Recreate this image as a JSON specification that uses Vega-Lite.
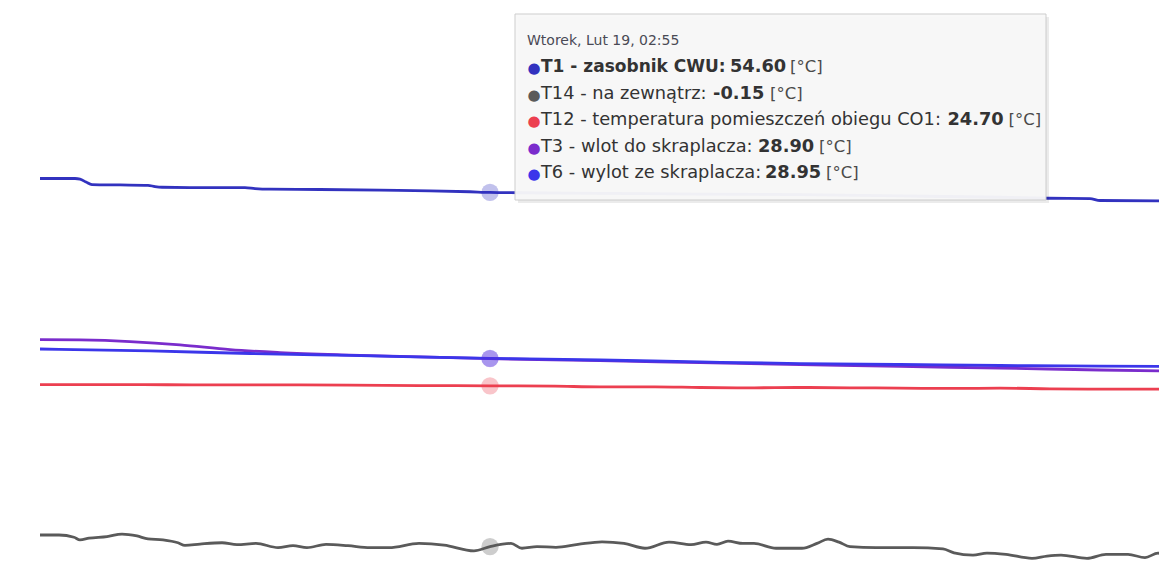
{
  "$schema": "https://vega.github.io/schema/vega-lite/v6.json",
  "width": 1159,
  "height": 581,
  "padding": 0,
  "autosize": {"type": "none"},
  "background": "#ffffff",
  "config": {"view": {"stroke": null}},
  "datasets": {
    "temps": [
      {"t": "2019-02-18T19:25", "s": "T1", "v": 56.75},
      {"t": "2019-02-18T19:45", "s": "T1", "v": 56.75},
      {"t": "2019-02-18T20:00", "s": "T1", "v": 56.75},
      {"t": "2019-02-18T20:05", "s": "T1", "v": 56.65},
      {"t": "2019-02-18T20:11", "s": "T1", "v": 56.2},
      {"t": "2019-02-18T20:17", "s": "T1", "v": 55.8},
      {"t": "2019-02-18T20:45", "s": "T1", "v": 55.75},
      {"t": "2019-02-18T21:13", "s": "T1", "v": 55.7},
      {"t": "2019-02-18T21:20", "s": "T1", "v": 55.5},
      {"t": "2019-02-18T21:27", "s": "T1", "v": 55.4},
      {"t": "2019-02-18T22:05", "s": "T1", "v": 55.35},
      {"t": "2019-02-18T22:50", "s": "T1", "v": 55.35},
      {"t": "2019-02-18T23:00", "s": "T1", "v": 55.2},
      {"t": "2019-02-18T23:15", "s": "T1", "v": 55.1},
      {"t": "2019-02-19T00:05", "s": "T1", "v": 55.05},
      {"t": "2019-02-19T01:05", "s": "T1", "v": 54.95},
      {"t": "2019-02-19T01:55", "s": "T1", "v": 54.85},
      {"t": "2019-02-19T02:35", "s": "T1", "v": 54.7},
      {"t": "2019-02-19T02:55", "s": "T1", "v": 54.6},
      {"t": "2019-02-19T03:25", "s": "T1", "v": 54.55},
      {"t": "2019-02-19T04:45", "s": "T1", "v": 54.45},
      {"t": "2019-02-19T06:25", "s": "T1", "v": 54.35},
      {"t": "2019-02-19T08:05", "s": "T1", "v": 54.25},
      {"t": "2019-02-19T09:45", "s": "T1", "v": 54.05},
      {"t": "2019-02-19T11:25", "s": "T1", "v": 53.85},
      {"t": "2019-02-19T12:13", "s": "T1", "v": 53.7},
      {"t": "2019-02-19T12:55", "s": "T1", "v": 53.65},
      {"t": "2019-02-19T13:05", "s": "T1", "v": 53.35},
      {"t": "2019-02-19T14:05", "s": "T1", "v": 53.3},

      {"t": "2019-02-18T19:25", "s": "T14", "v": 1.65},
      {"t": "2019-02-18T19:44", "s": "T14", "v": 1.65},
      {"t": "2019-02-18T19:59", "s": "T14", "v": 1.3},
      {"t": "2019-02-18T20:05", "s": "T14", "v": 0.9},
      {"t": "2019-02-18T20:14", "s": "T14", "v": 1.15},
      {"t": "2019-02-18T20:32", "s": "T14", "v": 1.4},
      {"t": "2019-02-18T20:47", "s": "T14", "v": 1.8},
      {"t": "2019-02-18T21:02", "s": "T14", "v": 1.5},
      {"t": "2019-02-18T21:13", "s": "T14", "v": 1.05},
      {"t": "2019-02-18T21:28", "s": "T14", "v": 0.9},
      {"t": "2019-02-18T21:43", "s": "T14", "v": 0.45},
      {"t": "2019-02-18T21:50", "s": "T14", "v": 0.05},
      {"t": "2019-02-18T22:05", "s": "T14", "v": 0.25},
      {"t": "2019-02-18T22:27", "s": "T14", "v": 0.45},
      {"t": "2019-02-18T22:42", "s": "T14", "v": 0.15},
      {"t": "2019-02-18T23:01", "s": "T14", "v": 0.35},
      {"t": "2019-02-18T23:23", "s": "T14", "v": -0.3},
      {"t": "2019-02-18T23:38", "s": "T14", "v": 0.0},
      {"t": "2019-02-18T23:52", "s": "T14", "v": -0.3},
      {"t": "2019-02-19T00:11", "s": "T14", "v": 0.2},
      {"t": "2019-02-19T00:33", "s": "T14", "v": 0.0},
      {"t": "2019-02-19T00:55", "s": "T14", "v": -0.3},
      {"t": "2019-02-19T01:14", "s": "T14", "v": -0.3},
      {"t": "2019-02-19T01:44", "s": "T14", "v": 0.35},
      {"t": "2019-02-19T02:09", "s": "T14", "v": 0.1},
      {"t": "2019-02-19T02:39", "s": "T14", "v": -0.8},
      {"t": "2019-02-19T02:55", "s": "T14", "v": -0.15},
      {"t": "2019-02-19T03:16", "s": "T14", "v": 0.35},
      {"t": "2019-02-19T03:27", "s": "T14", "v": -0.4},
      {"t": "2019-02-19T03:42", "s": "T14", "v": -0.15},
      {"t": "2019-02-19T04:01", "s": "T14", "v": -0.25},
      {"t": "2019-02-19T04:23", "s": "T14", "v": 0.2},
      {"t": "2019-02-19T04:47", "s": "T14", "v": 0.6},
      {"t": "2019-02-19T05:09", "s": "T14", "v": 0.35},
      {"t": "2019-02-19T05:30", "s": "T14", "v": -0.4},
      {"t": "2019-02-19T05:54", "s": "T14", "v": 0.55},
      {"t": "2019-02-19T06:16", "s": "T14", "v": 0.15},
      {"t": "2019-02-19T06:31", "s": "T14", "v": 0.55},
      {"t": "2019-02-19T06:42", "s": "T14", "v": 0.2},
      {"t": "2019-02-19T06:53", "s": "T14", "v": 0.7},
      {"t": "2019-02-19T07:08", "s": "T14", "v": 0.35},
      {"t": "2019-02-19T07:19", "s": "T14", "v": 0.35},
      {"t": "2019-02-19T07:41", "s": "T14", "v": -0.4},
      {"t": "2019-02-19T08:07", "s": "T14", "v": -0.4},
      {"t": "2019-02-19T08:22", "s": "T14", "v": 0.35},
      {"t": "2019-02-19T08:33", "s": "T14", "v": 1.0},
      {"t": "2019-02-19T08:44", "s": "T14", "v": 0.55},
      {"t": "2019-02-19T08:55", "s": "T14", "v": -0.15},
      {"t": "2019-02-19T09:21", "s": "T14", "v": -0.3},
      {"t": "2019-02-19T09:58", "s": "T14", "v": -0.3},
      {"t": "2019-02-19T10:28", "s": "T14", "v": -0.5},
      {"t": "2019-02-19T10:39", "s": "T14", "v": -1.1},
      {"t": "2019-02-19T10:58", "s": "T14", "v": -1.45},
      {"t": "2019-02-19T11:12", "s": "T14", "v": -1.15},
      {"t": "2019-02-19T11:31", "s": "T14", "v": -1.35},
      {"t": "2019-02-19T11:57", "s": "T14", "v": -1.95},
      {"t": "2019-02-19T12:12", "s": "T14", "v": -1.6},
      {"t": "2019-02-19T12:26", "s": "T14", "v": -1.45},
      {"t": "2019-02-19T12:52", "s": "T14", "v": -1.95},
      {"t": "2019-02-19T13:11", "s": "T14", "v": -1.35},
      {"t": "2019-02-19T13:33", "s": "T14", "v": -1.35},
      {"t": "2019-02-19T13:50", "s": "T14", "v": -1.85},
      {"t": "2019-02-19T14:03", "s": "T14", "v": -1.15},
      {"t": "2019-02-19T14:05", "s": "T14", "v": -1.2},

      {"t": "2019-02-18T19:25", "s": "T12", "v": 24.9},
      {"t": "2019-02-18T21:00", "s": "T12", "v": 24.9},
      {"t": "2019-02-18T22:05", "s": "T12", "v": 24.85},
      {"t": "2019-02-18T23:30", "s": "T12", "v": 24.85},
      {"t": "2019-02-19T00:35", "s": "T12", "v": 24.8},
      {"t": "2019-02-19T01:45", "s": "T12", "v": 24.75},
      {"t": "2019-02-19T02:55", "s": "T12", "v": 24.7},
      {"t": "2019-02-19T04:00", "s": "T12", "v": 24.65},
      {"t": "2019-02-19T04:45", "s": "T12", "v": 24.55},
      {"t": "2019-02-19T05:40", "s": "T12", "v": 24.55},
      {"t": "2019-02-19T06:25", "s": "T12", "v": 24.45},
      {"t": "2019-02-19T07:15", "s": "T12", "v": 24.4},
      {"t": "2019-02-19T08:05", "s": "T12", "v": 24.45},
      {"t": "2019-02-19T08:55", "s": "T12", "v": 24.4},
      {"t": "2019-02-19T09:45", "s": "T12", "v": 24.35},
      {"t": "2019-02-19T10:40", "s": "T12", "v": 24.3},
      {"t": "2019-02-19T11:25", "s": "T12", "v": 24.35},
      {"t": "2019-02-19T12:15", "s": "T12", "v": 24.25},
      {"t": "2019-02-19T13:05", "s": "T12", "v": 24.2},
      {"t": "2019-02-19T14:05", "s": "T12", "v": 24.2},

      {"t": "2019-02-18T19:25", "s": "T3", "v": 31.85},
      {"t": "2019-02-18T20:05", "s": "T3", "v": 31.8},
      {"t": "2019-02-18T20:55", "s": "T3", "v": 31.55},
      {"t": "2019-02-18T21:45", "s": "T3", "v": 31.05},
      {"t": "2019-02-18T22:35", "s": "T3", "v": 30.3},
      {"t": "2019-02-18T23:25", "s": "T3", "v": 29.85},
      {"t": "2019-02-19T00:35", "s": "T3", "v": 29.45},
      {"t": "2019-02-19T02:55", "s": "T3", "v": 28.9},
      {"t": "2019-02-19T04:45", "s": "T3", "v": 28.6},
      {"t": "2019-02-19T06:25", "s": "T3", "v": 28.3},
      {"t": "2019-02-19T08:05", "s": "T3", "v": 28.0},
      {"t": "2019-02-19T09:45", "s": "T3", "v": 27.7},
      {"t": "2019-02-19T11:25", "s": "T3", "v": 27.45},
      {"t": "2019-02-19T13:05", "s": "T3", "v": 27.15},
      {"t": "2019-02-19T14:05", "s": "T3", "v": 27.0},

      {"t": "2019-02-18T19:25", "s": "T6", "v": 30.4},
      {"t": "2019-02-18T21:15", "s": "T6", "v": 30.1},
      {"t": "2019-02-18T22:55", "s": "T6", "v": 29.7},
      {"t": "2019-02-19T00:35", "s": "T6", "v": 29.4},
      {"t": "2019-02-19T02:55", "s": "T6", "v": 28.95},
      {"t": "2019-02-19T04:45", "s": "T6", "v": 28.7},
      {"t": "2019-02-19T06:25", "s": "T6", "v": 28.4},
      {"t": "2019-02-19T08:05", "s": "T6", "v": 28.15},
      {"t": "2019-02-19T09:45", "s": "T6", "v": 28.0},
      {"t": "2019-02-19T11:25", "s": "T6", "v": 27.85},
      {"t": "2019-02-19T13:05", "s": "T6", "v": 27.75},
      {"t": "2019-02-19T14:05", "s": "T6", "v": 27.7}
    ],
    "tip": [
      {"row": 1, "s": "T1", "name": "T1 - zasobnik CWU:", "value": "54.60", "unit": "[°C]"},
      {"row": 2, "s": "T14", "name": "T14 - na zewnątrz:", "value": "-0.15", "unit": "[°C]"},
      {"row": 3, "s": "T12", "name": "T12 - temperatura pomieszczeń obiegu CO1:", "value": "24.70", "unit": "[°C]"},
      {"row": 4, "s": "T3", "name": "T3 - wlot do skraplacza:", "value": "28.90", "unit": "[°C]"},
      {"row": 5, "s": "T6", "name": "T6 - wylot ze skraplacza:", "value": "28.95", "unit": "[°C]"}
    ]
  },
  "resolve": {"scale": {"y": "independent"}},
  "layer": [
    {
      "data": {"name": "temps"},
      "encoding": {
        "x": {"field": "t", "type": "temporal", "axis": null,
              "scale": {"domain": [{"year": 2019, "month": 2, "date": 18, "hours": 18, "minutes": 45}, {"year": 2019, "month": 2, "date": 19, "hours": 14, "minutes": 4}]}},
        "y": {"field": "v", "type": "quantitative", "axis": null,
              "scale": {"domain": [-5.46, 84.34], "nice": false, "zero": false}},
        "color": {"field": "s", "type": "nominal", "legend": null,
                  "scale": {"domain": ["T1", "T14", "T12", "T3", "T6"], "range": ["#3232bf", "#5a5a5a", "#ec3f50", "#7a2ccc", "#3b36ea"]}}
      },
      "layer": [
        {
          "data": {"values": [{}]},
          "mark": {"type": "rule", "color": "#b5b5b5", "strokeWidth": 1},
          "encoding": {
            "x": {"datum": {"year": 2019, "month": 2, "date": 18, "hours": 19, "minutes": 23}, "type": "temporal"},
            "x2": {"datum": {"year": 2019, "month": 2, "date": 19, "hours": 14, "minutes": 4}},
            "y": {"datum": 0, "type": "quantitative"},
            "color": null
          }
        },
        {
          "mark": {"type": "line", "strokeWidth": 2.8, "interpolate": "monotone", "clip": true}
        },
        {
          "transform": [{"filter": "time(toDate(datum.t)) == time(datetime(2019, 1, 19, 2, 55))"}],
          "mark": {"type": "point", "filled": true, "opacity": 0.3, "size": 300}
        }
      ]
    },
    {
      "encoding": {
        "x": {"datum": {"year": 2019, "month": 2, "date": 19, "hours": 3, "minutes": 20}, "type": "temporal"}
      },
      "layer": [
        {
          "data": {"values": [{}]},
          "mark": {"type": "rect", "fill": "#000000", "opacity": 0.08},
          "encoding": {
            "x": {"datum": {"year": 2019, "month": 2, "date": 19, "hours": 3, "minutes": 23}, "type": "temporal"},
            "x2": {"datum": {"year": 2019, "month": 2, "date": 19, "hours": 12, "minutes": 14}},
            "y": {"datum": -0.909, "type": "quantitative", "axis": null, "scale": {"domain": [-1.553, 20.455], "reverse": true, "nice": false, "zero": false}},
            "y2": {"datum": 6.136}
          }
        },
        {
          "data": {"values": [{}]},
          "mark": {"type": "rect", "fill": "#f8f8f8", "stroke": "#cccccc", "strokeWidth": 1, "opacity": 0.96},
          "encoding": {
            "x2": {"datum": {"year": 2019, "month": 2, "date": 19, "hours": 12, "minutes": 11}},
            "y": {"datum": -1.023, "type": "quantitative", "axis": null, "scale": {"domain": [-1.553, 20.455], "reverse": true, "nice": false, "zero": false}},
            "y2": {"datum": 6.023}
          }
        },
        {
          "data": {"values": [{"header": "Wtorek, Lut 19, 02:55"}]},
          "mark": {"type": "text", "align": "left", "baseline": "middle", "dx": 12, "font": "DejaVu Sans", "fontSize": 14, "fill": "#4a4a55"},
          "encoding": {
            "y": {"datum": 0, "type": "quantitative", "axis": null, "scale": {"domain": [-1.553, 20.455], "reverse": true, "nice": false, "zero": false}},
            "text": {"field": "header"}
          }
        },
        {
          "data": {"name": "tip"},
          "encoding": {
            "y": {"field": "row", "type": "quantitative", "axis": null, "scale": {"domain": [-1.553, 20.455], "reverse": true, "nice": false, "zero": false}}
          },
          "layer": [
            {
              "mark": {"type": "text", "align": "center", "baseline": "middle", "dx": 19, "dy": 1, "font": "DejaVu Sans", "fontSize": 15},
              "encoding": {
                "text": {"value": "●"},
                "color": {"field": "s", "type": "nominal", "legend": null}
              }
            },
            {
              "transform": [{"filter": "datum.row > 1"}],
              "mark": {"type": "text", "align": "left", "baseline": "middle", "dx": 26, "font": "DejaVu Sans", "fontSize": 17.8, "fill": "#333333"},
              "encoding": {"text": {"field": "name"}}
            },
            {
              "transform": [{"filter": "datum.row == 1"}],
              "mark": {"type": "text", "align": "left", "baseline": "middle", "dx": 26, "font": "DejaVu Sans", "fontSize": 17, "fontWeight": "bold", "fill": "#333333"},
              "encoding": {"text": {"field": "name"}}
            },
            {
              "transform": [{"filter": "datum.row == 1"}],
              "mark": {"type": "text", "align": "left", "baseline": "middle", "dx": 215, "font": "DejaVu Sans", "fontSize": 17.8, "fontWeight": "bold", "fill": "#333333"},
              "encoding": {"text": {"field": "value"}}
            },
            {
              "transform": [{"filter": "datum.row == 2"}],
              "mark": {"type": "text", "align": "left", "baseline": "middle", "dx": 198, "font": "DejaVu Sans", "fontSize": 17.8, "fontWeight": "bold", "fill": "#333333"},
              "encoding": {"text": {"field": "value"}}
            },
            {
              "transform": [{"filter": "datum.row == 3"}],
              "mark": {"type": "text", "align": "left", "baseline": "middle", "dx": 432.5, "font": "DejaVu Sans", "fontSize": 17.8, "fontWeight": "bold", "fill": "#333333"},
              "encoding": {"text": {"field": "value"}}
            },
            {
              "transform": [{"filter": "datum.row == 4"}],
              "mark": {"type": "text", "align": "left", "baseline": "middle", "dx": 243, "font": "DejaVu Sans", "fontSize": 17.8, "fontWeight": "bold", "fill": "#333333"},
              "encoding": {"text": {"field": "value"}}
            },
            {
              "transform": [{"filter": "datum.row == 5"}],
              "mark": {"type": "text", "align": "left", "baseline": "middle", "dx": 250, "font": "DejaVu Sans", "fontSize": 17.8, "fontWeight": "bold", "fill": "#333333"},
              "encoding": {"text": {"field": "value"}}
            },
            {
              "transform": [{"filter": "datum.row == 1"}],
              "mark": {"type": "text", "align": "left", "baseline": "middle", "dx": 275, "font": "DejaVu Sans", "fontSize": 16.5, "fill": "#4a4a4a"},
              "encoding": {"text": {"field": "unit"}}
            },
            {
              "transform": [{"filter": "datum.row == 2"}],
              "mark": {"type": "text", "align": "left", "baseline": "middle", "dx": 255, "font": "DejaVu Sans", "fontSize": 16.5, "fill": "#4a4a4a"},
              "encoding": {"text": {"field": "unit"}}
            },
            {
              "transform": [{"filter": "datum.row == 3"}],
              "mark": {"type": "text", "align": "left", "baseline": "middle", "dx": 493.5, "font": "DejaVu Sans", "fontSize": 16.5, "fill": "#4a4a4a"},
              "encoding": {"text": {"field": "unit"}}
            },
            {
              "transform": [{"filter": "datum.row == 4"}],
              "mark": {"type": "text", "align": "left", "baseline": "middle", "dx": 304, "font": "DejaVu Sans", "fontSize": 16.5, "fill": "#4a4a4a"},
              "encoding": {"text": {"field": "unit"}}
            },
            {
              "transform": [{"filter": "datum.row == 5"}],
              "mark": {"type": "text", "align": "left", "baseline": "middle", "dx": 311, "font": "DejaVu Sans", "fontSize": 16.5, "fill": "#4a4a4a"},
              "encoding": {"text": {"field": "unit"}}
            }
          ]
        }
      ]
    }
  ]
}
